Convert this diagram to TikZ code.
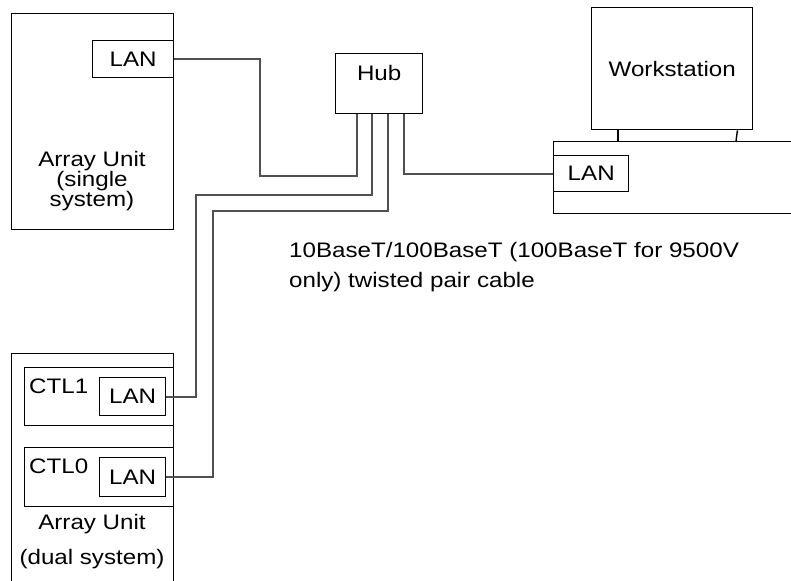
\documentclass[tikz,border=0pt]{standalone}
\usepackage{fontspec}
\newfontfamily\labelfont[FakeStretch=1.15]{Liberation Sans}
\usepackage{tikz}
\usetikzlibrary{calc}
\usepackage{xcolor}
\definecolor{cablegray}{RGB}{80, 80, 80}

\tikzset{
  unitbox/.style={draw, line width=1.4pt, inner sep=0pt, anchor=north west,
    font=\labelfont\fontsize{21}{20}\selectfont},
  lbl/.style={inner sep=0pt, align=center, font=\labelfont\fontsize{21}{20}\selectfont},
  cable/.style={draw=cablegray, line width=2pt},
}

\begin{document}
\begin{tikzpicture}[x=1pt, y=-1pt]
  \useasboundingbox (0,0) rectangle (791,580);
  \clip (0,0) rectangle (791,580);

  % array unit, single system
  \node[unitbox, minimum width=162, minimum height=216] (single) at (11,13) {};
  \node[unitbox, minimum width=81, minimum height=37] (lanS) at (92,40) {LAN};
  \node[lbl] (singlelbl) at (92,181) {Array Unit\\(single\\system)};

  % hub
  \node[unitbox, minimum width=87, minimum height=60] (hub) at (335,53) {};
  \node[lbl] (hublbl) at ($(hub.north)+(0,20)$) {Hub};
  \foreach \i/\dx in {1/22, 2/37, 3/53, 4/69}
    \coordinate (hubp\i) at ($(hub.south west)+(\dx,0)$);

  % workstation
  \node[unitbox, minimum width=161, minimum height=122] (monitor) at (591,7) {Workstation};
  \node[unitbox, minimum width=250, minimum height=72] (base) at (553,141) {};
  \node[unitbox, minimum width=75, minimum height=36] (lanW) at (553,155) {LAN};
  \draw[line width=1.4pt] ($(monitor.south west)+(27,0)$) -- ($(base.north west)+(65,0)$);
  \draw[line width=1.4pt] ($(monitor.south east)+(-16,0)$) -- ($(base.north west)+(183,0)$);

  % array unit, dual system
  \node[unitbox, minimum width=162, minimum height=240] (dual) at (11,353) {};
  \node[unitbox, minimum width=149, minimum height=58] (ctl1) at (24,367) {};
  \node[unitbox, minimum width=66, minimum height=38] (lan1) at (99,377) {LAN};
  \node[lbl, anchor=west] (ctl1lbl) at (29,386) {CTL1};
  \node[unitbox, minimum width=149, minimum height=59] (ctl0) at (24,447) {};
  \node[unitbox, minimum width=66, minimum height=39] (lan0) at (99,457) {LAN};
  \node[lbl, anchor=west] (ctl0lbl) at (29,466) {CTL0};
  \node[lbl] (duallbl) at (92,542) {Array Unit\\[15pt](dual system)};

  % cables
  \coordinate (bend1) at (260,176);
  \coordinate (bend2) at (196,195);
  \coordinate (bend3) at (213,211);
  \draw[cable] (lanS.east) -| (bend1) -| (hubp1);
  \draw[cable] (hubp2) |- (bend2) |- (lan1.east);
  \draw[cable] (hubp3) |- (bend3) |- (lan0.east);
  \draw[cable] (hubp4) |- (lanW.west);

  \node[lbl, anchor=west, align=left, font=\labelfont\fontsize{21}{30}\selectfont] (cablelbl)
    at (289,267) {10BaseT/100BaseT (100BaseT for 9500V\\only) twisted pair cable};

\end{tikzpicture}
\end{document}
